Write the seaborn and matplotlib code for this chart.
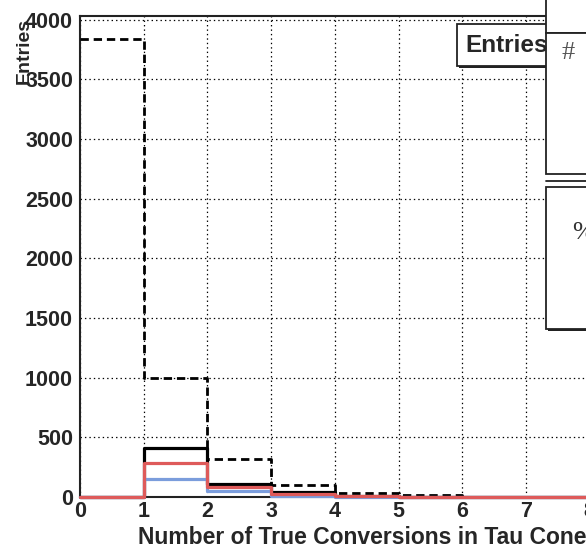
import numpy as np
import pandas as pd
import matplotlib
matplotlib.use("Agg")
import matplotlib.pyplot as plt
from matplotlib.patches import Rectangle
from matplotlib.lines import Line2D
from matplotlib.ticker import MultipleLocator
import seaborn as sns

# Histogram contents: number of true photon conversions inside the tau cone
bin_edges = list(range(0, 11))
all_taus = [3840, 995, 318, 100, 33, 16, 4, 2, 1, 0]
matched = [0, 414, 109, 40, 10, 4, 1, 0, 0, 0]
decay_mode_a = [0, 289, 82, 24, 5, 2, 0, 0, 0, 0]
decay_mode_b = [0, 154, 47, 8, 1, 0, 0, 0, 0, 0]
y_ticks = [0, 500, 1000, 1500, 2000, 2500, 3000, 3500, 4000]
x_ticks = list(range(0, 9))

sns.set_theme(style="white")
plt.rcParams["font.family"] = ["Liberation Sans", "DejaVu Sans"]
plt.rcParams["lines.scale_dashes"] = False

W, H, DPI = 586, 546, 100
fig = plt.figure(figsize=(W / DPI, H / DPI), dpi=DPI)


def px(x, y):
    """pixel (from top-left) -> figure fraction"""
    return x / W, 1 - y / H


# frame runs on past the right edge of the canvas
ax_left, ax_top, ax_bottom = 80, 15.7, 497
unit_px = 63.7
ax = fig.add_axes([ax_left / W, 1 - ax_bottom / H,
                   unit_px * 10 / W, (ax_bottom - ax_top) / H])

centers = np.array(bin_edges[:-1]) + 0.5
df = pd.DataFrame({
    "n": np.tile(centers, 4),
    "w": all_taus + matched + decay_mode_b + decay_mode_a,
    "sample": (["all"] * 10 + ["matched"] * 10 + ["b"] * 10 + ["a"] * 10),
})

styles = [
    ("all", "black", 2.0, (0, (6, 3.5))),
    ("matched", "black", 2.3, "-"),
    ("b", "#7b9ddc", 2.3, "-"),
    ("a", "#de5a5a", 2.3, "-"),
]
for name, col, lw, ls in styles:
    sub = df[df["sample"] == name]
    sns.histplot(data=sub, x="n", weights="w", bins=bin_edges,
                 element="step", fill=False, color=col, linewidth=lw,
                 linestyle=ls, ax=ax, zorder=3, clip_on=False)

ax.set_xlim(0, 10)
ax.set_ylim(0, 4032)
ax.set_xlabel("")
ax.set_ylabel("")
ax.set_xticks(x_ticks)
ax.set_yticks(y_ticks)
ax.xaxis.set_minor_locator(MultipleLocator(0.2))
ax.yaxis.set_minor_locator(MultipleLocator(100))
ax.tick_params(which="major", direction="in", length=10, width=1.1,
               color="#222222", labelsize=15.5, pad=3)
ax.tick_params(which="minor", direction="in", length=5, width=1.1,
               color="#222222")
ax.tick_params(axis="y", pad=5)
for lab in ax.get_xticklabels() + ax.get_yticklabels():
    lab.set_fontweight("bold")
ax.grid(True, which="major", color="black", linestyle=(0, (1, 2.2)),
        linewidth=0.9)
for s in ax.spines.values():
    s.set_color("#222222")
    s.set_linewidth(1.5)

# axis titles
fig.text(*px(586, 537), "Number of True Conversions in Tau Cone",
         ha="right", va="center", fontsize=16.5, fontweight="bold")
fig.text(*px(33, 18), "Entries", rotation=90, ha="right", va="top",
         fontsize=14, fontweight="bold")


def box(x0, y0, x1, y1, lw=1.3, shadow=0):
    if shadow:
        fig.add_artist(Rectangle(px(x0 + shadow, y1 + shadow),
                                 (x1 - x0) / W, (y1 - y0) / H,
                                 transform=fig.transFigure,
                                 facecolor="#222222", edgecolor="none",
                                 zorder=10))
    fig.add_artist(Rectangle(px(x0, y1), (x1 - x0) / W, (y1 - y0) / H,
                             transform=fig.transFigure, facecolor="white",
                             edgecolor="#222222", linewidth=lw, zorder=11))


# statistics boxes
box(457, 24, 552, 66, shadow=2)
fig.text(*px(465, 45), "Entries", ha="left", va="center", fontsize=17.5,
         fontweight="bold", zorder=12)

box(546, -20, 660, 33)
box(546, 33, 660, 174, shadow=0)
fig.add_artist(Line2D([546 / W, 1], [1 - 181 / H] * 2,
                      transform=fig.transFigure, color="#222222",
                      linewidth=1.3, zorder=13))
box(546, 187, 660, 329, shadow=2)
fig.text(*px(562, 53), "#", ha="left", va="center", fontsize=19,
         family=["Liberation Serif", "DejaVu Serif"], color="#555555",
         zorder=14)
fig.text(*px(572, 233), "%", ha="left", va="center", fontsize=19,
         family=["Liberation Serif", "DejaVu Serif"], color="#333333",
         zorder=14)

fig.savefig("out.png", dpi=DPI)
